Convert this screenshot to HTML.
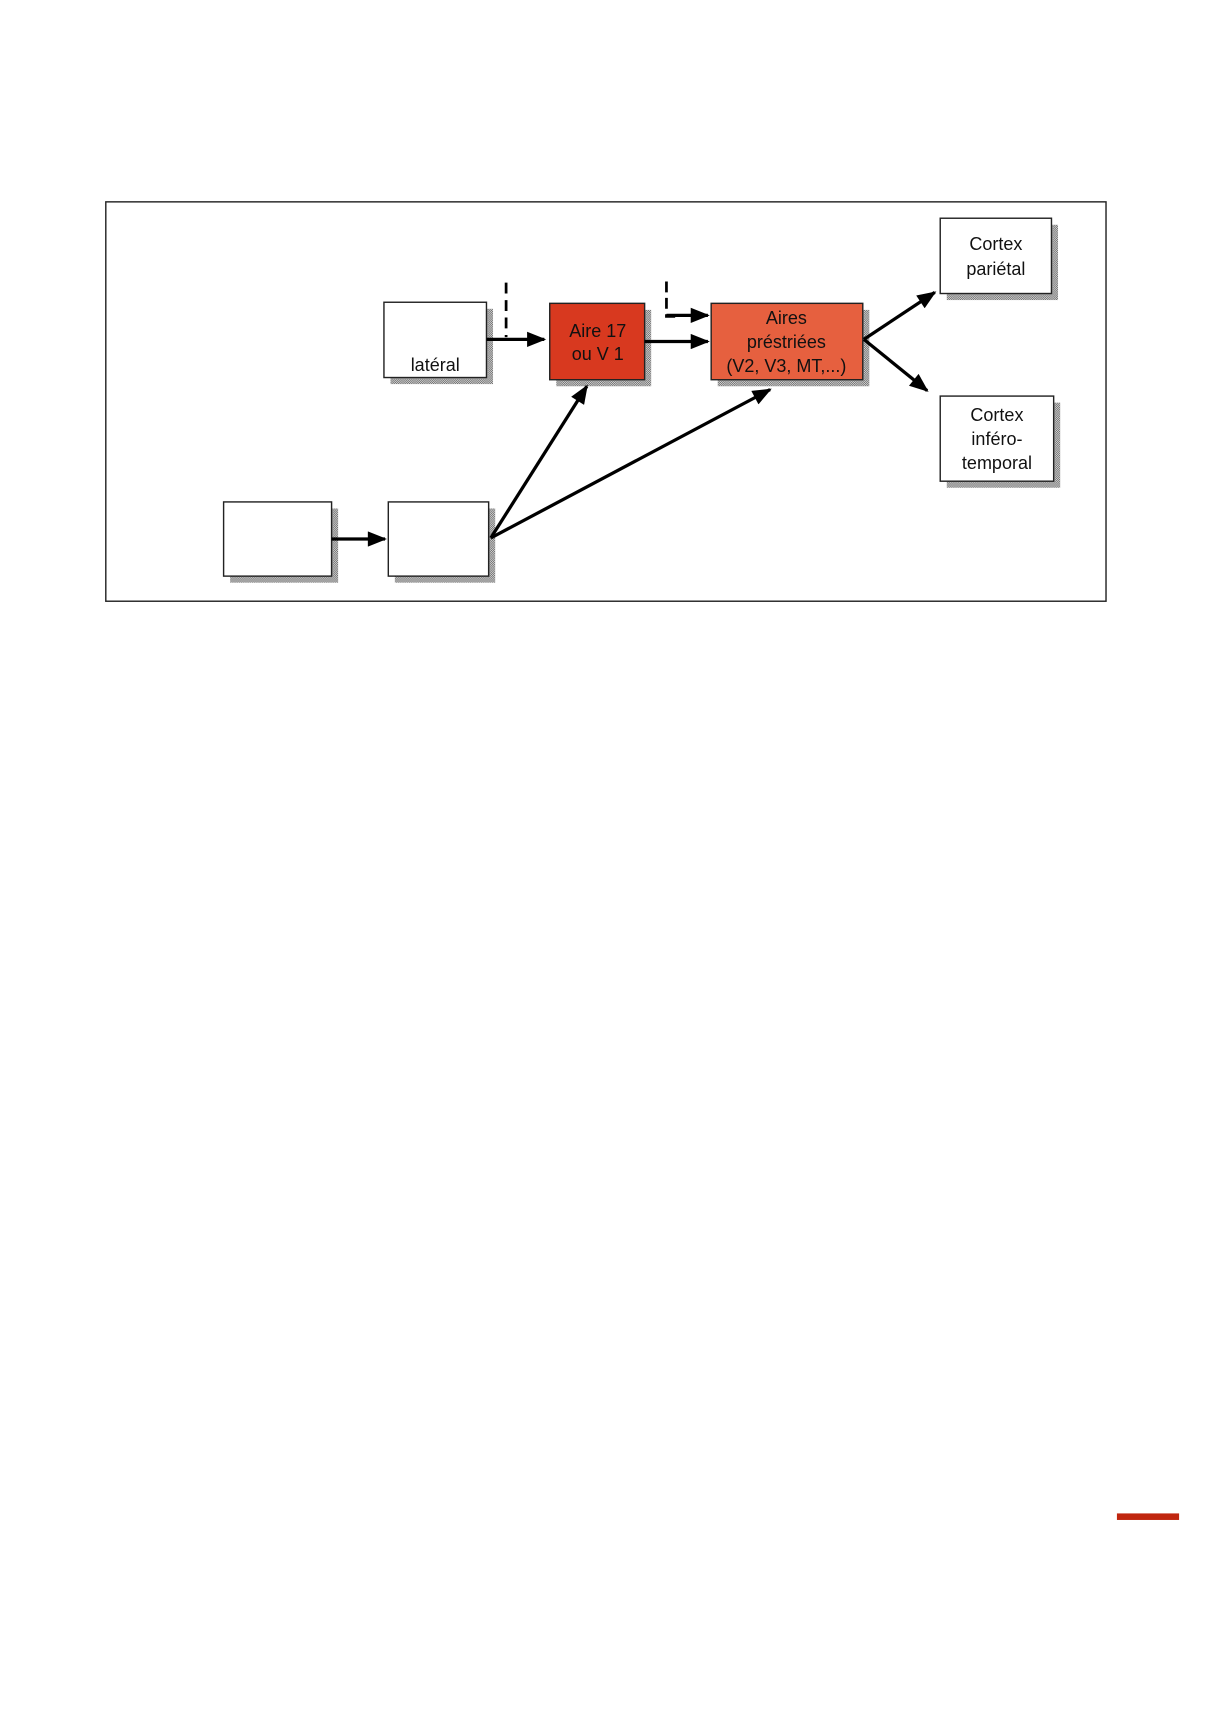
<!DOCTYPE html>
<html><head><meta charset="utf-8"><style>
html,body{margin:0;padding:0;background:#fff;}
svg{display:block;}
text{font-family:"Liberation Sans",sans-serif;font-size:16.5px;fill:#111;}
</style></head><body>
<svg width="1214" height="1712" viewBox="0 0 1113 1569" preserveAspectRatio="none" xmlns="http://www.w3.org/2000/svg">
<defs>
<pattern id="st" width="2" height="2" patternUnits="userSpaceOnUse"><rect width="2" height="2" fill="#ddd"/><rect width="1" height="1" fill="#666"/><rect x="1" y="1" width="1" height="1" fill="#666"/></pattern>
<marker id="ab" viewBox="0 0 10 8" markerWidth="22" markerHeight="14" refX="9" refY="4" orient="auto" markerUnits="userSpaceOnUse"><path d="M0,0 L10,4 L0,8 Z" fill="#000"/></marker>
</defs>
<g transform="translate(1,1)">
<rect x="96" y="184" width="917" height="366" fill="none" stroke="#222" stroke-width="1.3"/>
<g fill="url(#st)">
<rect x="357" y="282" width="94" height="69"/>
<rect x="509" y="283" width="87" height="70"/>
<rect x="657" y="283" width="139" height="70"/>
<rect x="867" y="205" width="102" height="69"/>
<rect x="867" y="368" width="104" height="78"/>
<rect x="210" y="465" width="99" height="68"/>
<rect x="361" y="465" width="92" height="68"/>
</g>
<g stroke="#222" stroke-width="1.3">
<rect x="351" y="276" width="94" height="69" fill="#fff"/>
<rect x="503" y="277" width="87" height="70" fill="#d8391f"/>
<rect x="651" y="277" width="139" height="70" fill="#e6603f"/>
<rect x="861" y="199" width="102" height="69" fill="#fff"/>
<rect x="861" y="362" width="104" height="78" fill="#fff"/>
<rect x="204" y="459" width="99" height="68" fill="#fff"/>
<rect x="355" y="459" width="92" height="68" fill="#fff"/>
</g>
<text x="398" y="339" text-anchor="middle">latéral</text>
<text x="547" y="308" text-anchor="middle">Aire 17</text>
<text x="547" y="329" text-anchor="middle">ou V 1</text>
<text x="720" y="296" text-anchor="middle">Aires</text>
<text x="720" y="318" text-anchor="middle">préstriées</text>
<text x="720" y="340" text-anchor="middle">(V2, V3, MT,...)</text>
<text x="912" y="228" text-anchor="middle">Cortex</text>
<text x="912" y="251" text-anchor="middle">pariétal</text>
<text x="913" y="385" text-anchor="middle">Cortex</text>
<text x="913" y="407" text-anchor="middle">inféro-</text>
<text x="913" y="429" text-anchor="middle">temporal</text>
<g stroke="#000" stroke-width="3" fill="none">
<line x1="445" y1="310" x2="498" y2="310" marker-end="url(#ab)"/>
<line x1="590" y1="312" x2="648" y2="312" marker-end="url(#ab)"/>
<line x1="303" y1="493" x2="352" y2="493" marker-end="url(#ab)"/>
<line x1="449" y1="492" x2="537" y2="353" marker-end="url(#ab)"/>
<line x1="449" y1="492" x2="705" y2="356" marker-end="url(#ab)"/>
<line x1="791" y1="310" x2="856" y2="267" marker-end="url(#ab)"/>
<line x1="791" y1="310" x2="849" y2="357" marker-end="url(#ab)"/>
<polyline points="610,288 648,288" marker-end="url(#ab)"/>
</g>
<g stroke="#000" stroke-width="2.5" fill="none" stroke-dasharray="10,6">
<line x1="463" y1="258" x2="463" y2="308"/>
<polyline points="610,257 610,289 620,289" stroke-dasharray="10,5"/>
</g>
</g>
<rect x="1024" y="1387" width="57" height="6" fill="#c0260f"/>
</svg>
</body></html>
